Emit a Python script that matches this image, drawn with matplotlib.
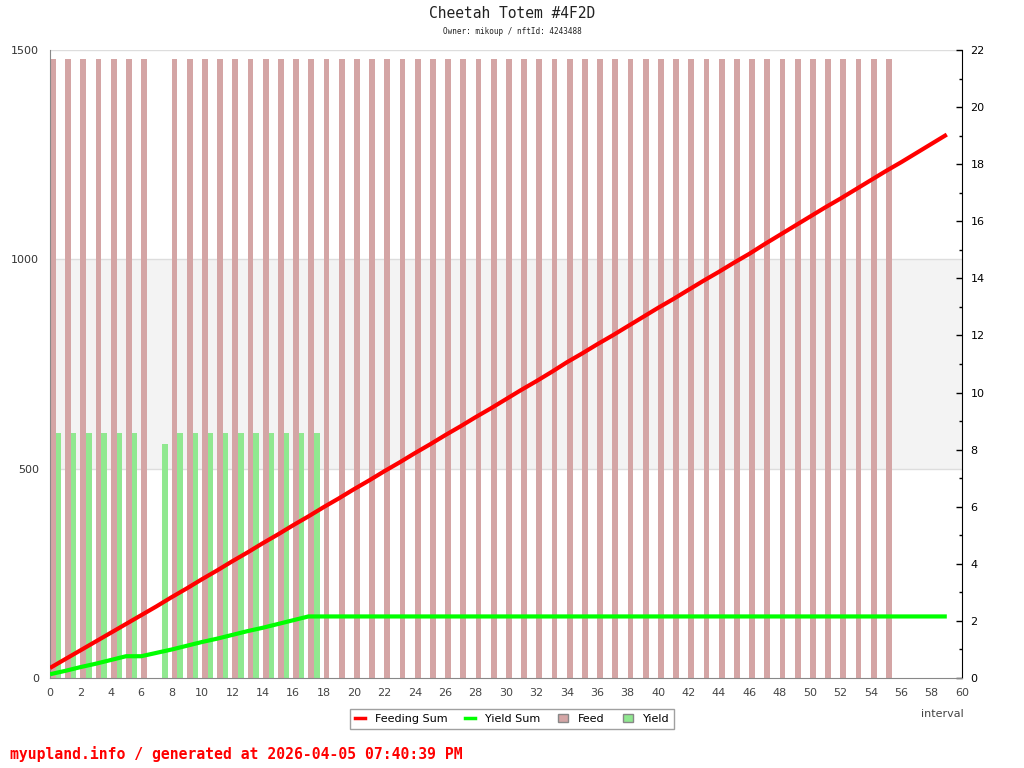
import matplotlib
matplotlib.use("Agg")
import matplotlib.pyplot as plt
from matplotlib.lines import Line2D
from matplotlib.patches import Patch, Rectangle
from matplotlib.transforms import blended_transform_factory
from matplotlib.ticker import MultipleLocator

# ---- data ----
feed_intervals = [0, 1, 2, 3, 4, 5, 6] + list(range(8, 56))
feed_values = [21.7] * len(feed_intervals)

yield_intervals = [0, 1, 2, 3, 4, 5, 7, 8, 9, 10, 11, 12, 13, 14, 15, 16, 17]
yield_values = [8.6, 8.6, 8.6, 8.6, 8.6, 8.6, 8.2, 8.6, 8.6, 8.6, 8.6, 8.6,
                8.6, 8.6, 8.6, 8.6, 8.6]

sum_intervals = list(range(0, 60))
feeding_sum = [24, 45, 66, 87, 108, 129, 150, 171, 193, 214,
               236, 257, 279, 300, 322, 343, 365, 386, 408, 429,
               451, 472, 494, 515, 537, 558, 580, 601, 623, 644,
               666, 688, 709, 731, 754, 775, 797, 818, 840, 862,
               884, 905, 927, 949, 970, 992, 1013, 1036, 1058, 1080,
               1102, 1124, 1145, 1167, 1189, 1211, 1232, 1254, 1276, 1298]
yield_sum = [9, 17, 26, 34, 43, 52, 52, 60, 68, 77,
             86, 94, 103, 112, 120, 129, 138, 147] + [147] * 42

title = "Cheetah Totem #4F2D"
subtitle = "Owner: mikoup / nftId: 4243488"
footer = "myupland.info / generated at 2026-04-05 07:40:39 PM"

# ---- figure ----
fig = plt.figure(figsize=(10.24, 7.68), dpi=100)
ax = fig.add_axes([50 / 1024, 1 - 678 / 768, 912 / 1024, 628 / 768])
ax2 = ax.twinx()
ax.set_zorder(ax2.get_zorder() + 1)
ax.patch.set_visible(False)
ax2.patch.set_facecolor("white")

ax.set_xlim(0, 60)
ax.set_ylim(0, 1500)
ax2.set_ylim(0, 22)

# band + grid lines (in left-axis units) drawn on background axis
tr = blended_transform_factory(ax2.transAxes, ax.transData)
ax2.add_patch(Rectangle((0, 500), 1, 500, transform=tr, facecolor="#f3f3f3",
                        edgecolor="none", zorder=0))
for yv in (500, 1000, 1500):
    ax2.plot([0, 1], [yv, yv], transform=tr, color="#dddddd", lw=1, zorder=0.5)

# bars on right axis
ax2.bar(feed_intervals, feed_values, width=0.38, align="edge",
        color="#d4a5a5", zorder=1)
ax2.bar([i + 0.38 for i in yield_intervals], yield_values, width=0.36,
        align="edge", color="#90e890", zorder=1)

# lines on left axis
ax.plot(sum_intervals, feeding_sum, color="#ff0000", lw=3.0,
        solid_capstyle="butt", zorder=3)
ax.plot(sum_intervals, yield_sum, color="#00ff00", lw=3.0,
        solid_capstyle="butt", zorder=3)

# axes styling
ax.set_yticks([0, 500, 1000, 1500])
ax.set_xticks(range(0, 61, 2))
ax.tick_params(axis="y", length=0, pad=8, labelsize=8, labelcolor="#333333")
ax.tick_params(axis="x", length=0, pad=7, labelsize=8, labelcolor="#444444")
for s in ("top", "right"):
    ax.spines[s].set_visible(False)
ax.spines["left"].set_color("#888888")
ax.spines["bottom"].set_color("#888888")

ax2.yaxis.set_major_locator(MultipleLocator(2))
ax2.yaxis.set_minor_locator(MultipleLocator(1))
ax2.tick_params(axis="y", which="major", direction="in", length=4, width=1,
                color="black", labelsize=8, labelcolor="black", pad=6)
ax2.tick_params(axis="y", which="minor", direction="in", length=2.5, width=1,
                color="black")
for s in ("top", "left", "bottom"):
    ax2.spines[s].set_visible(False)
ax2.spines["right"].set_color("black")

# texts
fig.text(512 / 1024, 1 - 14 / 768, title, ha="center", va="center",
         family="DejaVu Sans Mono", fontsize=10.5, color="#222222")
fig.text(512 / 1024, 1 - 31 / 768, subtitle, ha="center", va="center",
         family="DejaVu Sans Mono", fontsize=5.5, color="#222222")
fig.text(10 / 1024, 1 - 754 / 768, footer, ha="left", va="center",
         family="DejaVu Sans Mono", fontweight="bold", fontsize=10.6,
         color="#ff0000")
fig.text(942 / 1024, 1 - 714 / 768, "interval", ha="center", va="center",
         fontsize=8, color="#444444")

handles = [Line2D([], [], color="#ff0000", lw=2.5),
           Line2D([], [], color="#00ff00", lw=2.5),
           Patch(facecolor="#d4a5a5", edgecolor="#888888"),
           Patch(facecolor="#90e890", edgecolor="#888888")]
labels = ["Feeding Sum", "Yield Sum", "Feed", "Yield"]
leg = fig.legend(handles, labels, loc="center",
                 bbox_to_anchor=(512 / 1024, 1 - 719 / 768), ncol=4,
                 fontsize=8, frameon=True, fancybox=False, handlelength=0.9,
                 handleheight=0.8, handletextpad=0.9, columnspacing=1.6,
                 borderpad=0.45, borderaxespad=0)
leg.get_frame().set_edgecolor("#888888")
leg.get_frame().set_linewidth(1)

fig.savefig("out.png", dpi=100)
